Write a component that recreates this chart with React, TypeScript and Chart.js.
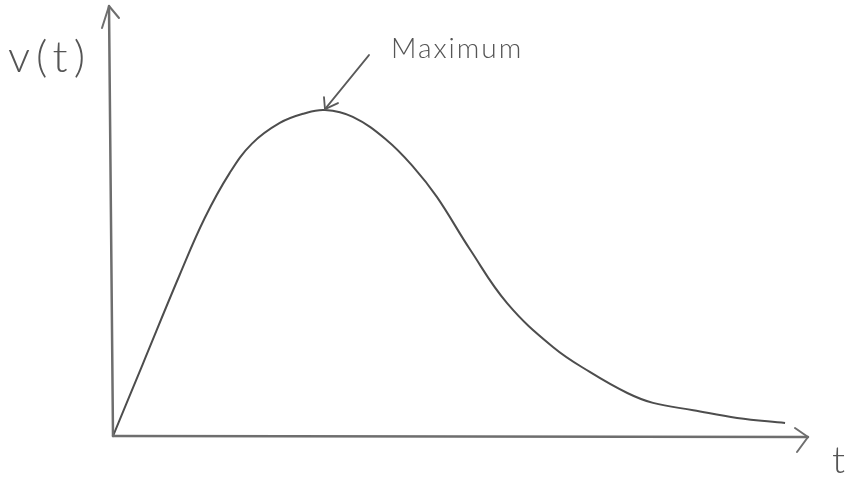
import React, { useEffect, useRef } from "react";
import { Chart, registerables } from "chart.js";

Chart.register(...registerables);

// Sketched velocity curve v(t): time values and velocity values (arbitrary units)
const tValues = [0, 0.43, 0.96, 1.32, 1.68, 2.0, 2.4, 2.75, 3.05, 3.45, 3.94, 4.32, 4.66, 5.14, 5.67, 6.33, 6.86, 7.4, 7.77, 8.35, 8.98, 9.67];
const vValues = [0, 1.68, 3.75, 5.07, 6.12, 6.8, 7.28, 7.5, 7.58, 7.42, 6.88, 6.26, 5.56, 4.33, 3.09, 2.07, 1.49, 1.0, 0.77, 0.6, 0.42, 0.3];

const yAxisLabel = "v(t)";
const xAxisLabel = "t";
const annotationLabel = "Maximum";

const INK = "#555";
const FONT = "Lato, 'Open Sans', 'DejaVu Sans', sans-serif";

const sketchPlugin = {
  id: "sketch",
  afterDraw(chart: any) {
    const { ctx, chartArea, scales } = chart;
    const xs = scales.x;
    const ys = scales.y;
    const x0 = xs.getPixelForValue(0);
    const y0 = ys.getPixelForValue(0);
    const yTop = chartArea.top;
    const xRight = chartArea.right;
    ctx.save();
    ctx.strokeStyle = "#6e6e6e";
    ctx.lineWidth = 2.5;
    ctx.lineCap = "round";
    ctx.lineJoin = "round";
    // y axis (slightly slanted, hand drawn)
    ctx.beginPath();
    ctx.moveTo(x0, y0);
    ctx.lineTo(x0 - 4, yTop);
    ctx.stroke();
    ctx.lineWidth = 2;
    ctx.beginPath();
    ctx.moveTo(x0 - 11, yTop + 22);
    ctx.lineTo(x0 - 4, yTop);
    ctx.lineTo(x0 + 6, yTop + 12);
    ctx.stroke();
    // x axis
    ctx.lineWidth = 2.5;
    ctx.beginPath();
    ctx.moveTo(x0, y0);
    ctx.lineTo(xRight, y0 + 1);
    ctx.stroke();
    ctx.lineWidth = 2;
    ctx.beginPath();
    ctx.moveTo(xRight - 13, y0 - 8);
    ctx.lineTo(xRight, y0 + 1);
    ctx.lineTo(xRight - 11, y0 + 16);
    ctx.stroke();

    // annotation arrow to the maximum
    let mi = 0;
    vValues.forEach((v, i) => { if (v > vValues[mi]) mi = i; });
    const px = xs.getPixelForValue(tValues[mi]);
    const py = ys.getPixelForValue(vValues[mi]);
    ctx.strokeStyle = "#5a5a5a";
    ctx.lineWidth = 1.8;
    ctx.beginPath();
    ctx.moveTo(px + 44, py - 55);
    ctx.lineTo(px, py - 1);
    ctx.stroke();
    ctx.beginPath();
    ctx.moveTo(px - 1, py - 13);
    ctx.lineTo(px, py - 1);
    ctx.lineTo(px + 13, py - 7);
    ctx.stroke();

    // labels
    ctx.fillStyle = INK;
    ctx.textBaseline = "alphabetic";
    ctx.textAlign = "left";
    ctx.font = `300 44px ${FONT}`;
    (ctx as any).letterSpacing = "6px";
    ctx.fillText(yAxisLabel, 8, 72);
    ctx.font = `300 28px ${FONT}`;
    (ctx as any).letterSpacing = "2px";
    ctx.fillText(annotationLabel, px + 66, py - 52);
    ctx.font = `300 38px ${FONT}`;
    (ctx as any).letterSpacing = "0px";
    ctx.fillText(xAxisLabel, xRight + 24, y0 + 37);
    ctx.restore();
  },
};

export default function App() {
  const ref = useRef<HTMLCanvasElement | null>(null);
  useEffect(() => {
    if (!ref.current) return;
    const chart = new Chart(ref.current, {
      type: "scatter",
      data: {
        datasets: [
          {
            data: tValues.map((t, i) => ({ x: t, y: vValues[i] })),
            showLine: true,
            borderColor: "#4d4d4d",
            borderWidth: 2,
            pointRadius: 0,
            tension: 0.4,
            fill: false,
          },
        ],
      },
      options: {
        animation: false,
        responsive: false,
        layout: { padding: { left: 113, right: 43, top: 6, bottom: 41 } },
        plugins: { legend: { display: false }, tooltip: { enabled: false } },
        scales: {
          x: { type: "linear", min: 0, max: 10, display: false },
          y: { type: "linear", min: 0, max: 10, display: false },
        },
      },
      plugins: [sketchPlugin],
    });
    return () => chart.destroy();
  }, []);
  return (
    <div style={{ position: "fixed", left: 0, top: 0, width: 851, height: 477, background: "#fff" }}>
      <canvas ref={ref} width={851} height={477} style={{ width: 851, height: 477 }} />
    </div>
  );
}
